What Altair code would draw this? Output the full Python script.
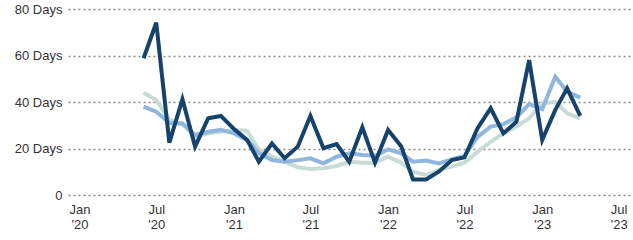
import altair as alt
import pandas as pd

months = pd.date_range("2020-06-01", "2023-04-01", freq="MS").strftime("%Y-%m-%dT00:00:00").tolist()

dark = [58.8, 74.1, 22.5, 41.2, 20.8, 33.0, 34.0, 28.4, 23.7, 14.3, 22.2, 15.8,
        20.8, 34.0, 20.1, 21.9, 14.3, 29.1, 13.9, 28.0, 21.0, 6.7, 6.7, 10.0,
        15.0, 16.2, 28.7, 37.3, 26.5, 31.5, 58.0, 23.7, 36.6, 45.9, 34.0]
medium = [38.0, 35.8, 31.0, 30.8, 25.8, 27.2, 28.0, 26.5, 23.7, 18.0, 15.0, 14.3,
          15.0, 15.8, 13.6, 16.5, 17.9, 17.2, 16.9, 19.6, 17.9, 14.3, 14.8, 13.6,
          15.3, 16.8, 25.0, 29.4, 30.5, 33.4, 39.1, 36.9, 50.9, 44.4, 41.9]
pale = [44.0, 40.9, 32.3, 30.5, 25.0, 26.5, 27.2, 28.0, 27.7, 19.4, 16.5, 14.3,
        11.9, 11.2, 11.5, 12.5, 14.3, 13.9, 13.9, 16.5, 13.9, 10.0, 8.6, 10.8,
        12.2, 13.9, 18.6, 22.9, 26.5, 29.4, 33.0, 39.4, 40.1, 35.1, 33.0]

y_ticks = [0, 20, 40, 60, 80]
x_ticks = ["2020-01", "2020-07", "2021-01", "2021-07", "2022-01", "2022-07", "2023-01", "2023-07"]

rows = []
for name, vals in [("pale", pale), ("medium", medium), ("dark", dark)]:
    for m, v in zip(months, vals):
        rows.append({"month": m, "series": name, "days": v})
df = pd.DataFrame(rows)

x_vals = [alt.DateTime(year=int(s[:4]), month=int(s[5:]), date=1) for s in x_ticks]

x_enc = alt.X(
    "month:T",
    scale=alt.Scale(domain=[alt.DateTime(year=2019, month=12, date=5),
                            alt.DateTime(year=2023, month=8, date=4)]),
    axis=alt.Axis(
        values=x_vals,
        labelExpr="[timeFormat(datum.value, '%b'), \"'\" + timeFormat(datum.value, '%y')]",
        title=None, grid=False, domain=False, ticks=False,
        labelFont="Liberation Sans", labelFontSize=13, labelColor="#333333",
        labelPadding=8, labelLineHeight=15, labelAlign="center",
    ),
)
y_enc = alt.Y(
    "days:Q",
    scale=alt.Scale(domain=[0, 80], nice=False),
    axis=alt.Axis(
        values=y_ticks,
        labelExpr="datum.value == 0 ? '0' : datum.value + ' Days'",
        title=None, domain=False, ticks=False,
        grid=True, gridColor="#8a8a8a", gridDash=[2, 3], gridWidth=1.6,
        labelFont="Liberation Sans", labelFontSize=13, labelColor="#333333",
        labelPadding=6,
    ),
)

base = alt.Chart(df)
colors = {"pale": ("#c8dbd6", 4), "medium": ("#8fb6dc", 4), "dark": ("#16426b", 4)}
layers = []
for name in ["pale", "medium", "dark"]:
    c, w = colors[name]
    layers.append(
        base.transform_filter(alt.datum.series == name)
        .mark_line(color=c, strokeWidth=w, strokeJoin="miter", strokeCap="butt")
        .encode(x=x_enc, y=y_enc)
    )

chart = alt.layer(*layers).properties(
    width=565, height=186,
    autosize=alt.AutoSizeParams(type="none"),
    padding={"left": 68, "top": 9, "right": 0, "bottom": 45},
).configure_view(stroke=None)

chart.save("out.html", embed_options={"renderer": "svg", "actions": False})
